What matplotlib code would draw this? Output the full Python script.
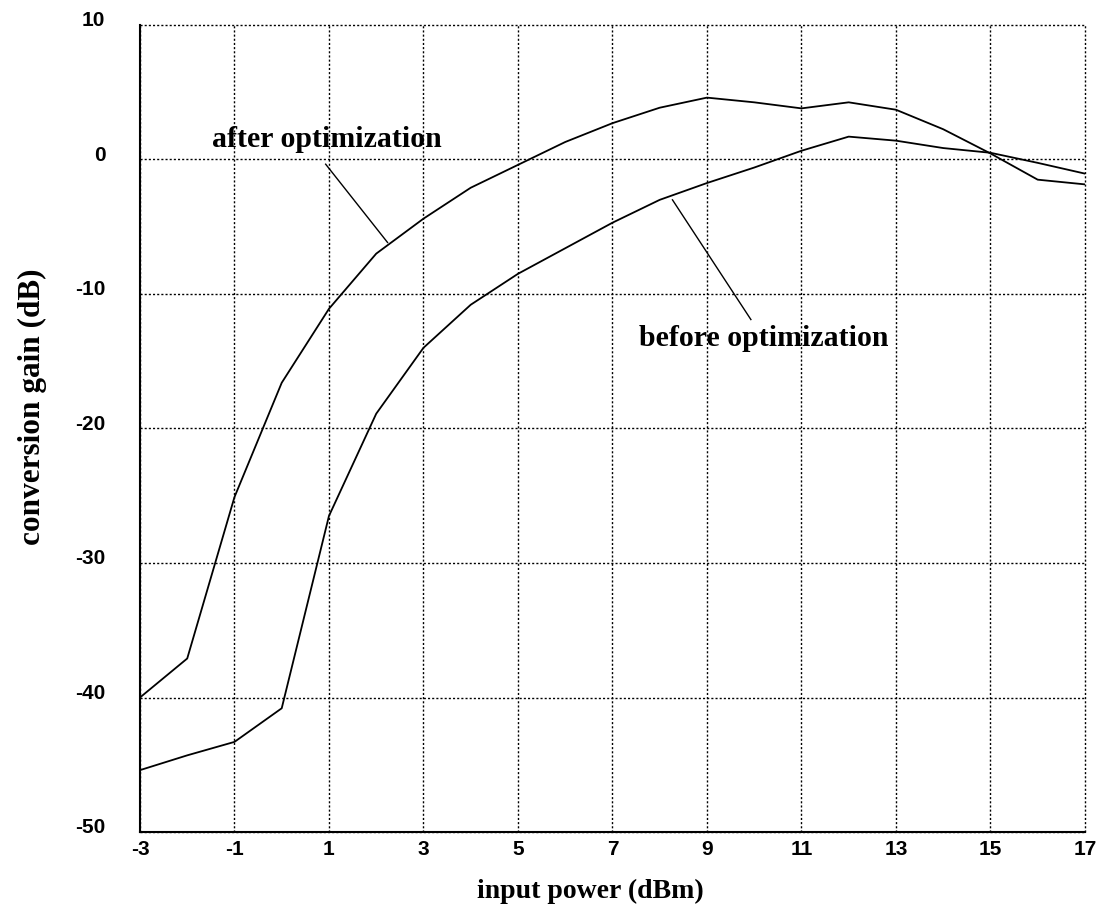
import numpy as np
import matplotlib
matplotlib.use("Agg")
import matplotlib.pyplot as plt
from matplotlib.transforms import ScaledTranslation

plt.rcParams["axes.unicode_minus"] = False

# input power (dBm)
input_power = [-3, -2, -1, 0, 1, 2, 3, 4, 5, 6, 7, 8, 9, 10, 11, 12, 13, 14, 15, 16, 17]
# conversion gain (dB)
gain_after = [-40.0, -37.1, -25.1, -16.6, -11.1, -7.0, -4.4, -2.1, -0.4, 1.3, 2.7,
              3.85, 4.6, 4.25, 3.8, 4.25, 3.7, 2.25, 0.45, -1.5, -1.85]
gain_before = [-45.4, -44.3, -43.3, -40.8, -26.5, -18.9, -14.0, -10.8, -8.5, -6.6, -4.7,
               -3.0, -1.75, -0.6, 0.65, 1.7, 1.4, 0.85, 0.5, -0.25, -1.05]

x_ticks = [-3, -1, 1, 3, 5, 7, 9, 11, 13, 15, 17]
y_ticks = [-50, -40, -30, -20, -10, 0, 10]

serif = "Liberation Serif"
sans = "Liberation Sans"

fig = plt.figure(figsize=(10.97, 9.22), dpi=100)
ax = fig.add_axes([0.1276, 0.0976, 0.8614, 0.8753])

ax.plot(input_power, gain_after, color="black", linewidth=1.3)
ax.plot(input_power, gain_before, color="black", linewidth=1.3)

ax.set_xlim(-3, 17)
ax.set_ylim(-50, 10)
ax.set_xticks(x_ticks)
ax.set_yticks(y_ticks)
ax.tick_params(axis="x", length=0, pad=6)
ax.tick_params(axis="y", length=0, pad=25)
for lab in ax.get_xticklabels() + ax.get_yticklabels():
    lab.set_fontfamily(sans)
    lab.set_fontweight("bold")
    lab.set_fontsize(15)
# y刻度标签稍微上移
up = ScaledTranslation(0, 4.5 / 72, fig.dpi_scale_trans)
for lab in ax.get_yticklabels():
    lab.set_transform(lab.get_transform() + up)

ax.grid(True, color="black", linestyle=(0, (1.5, 1.5)), linewidth=1.0)
for line in ax.get_xgridlines() + ax.get_ygridlines():
    line.set_clip_on(False)
for side in ["top", "right"]:
    ax.spines[side].set_visible(False)
for side in ["left", "bottom"]:
    ax.spines[side].set_linewidth(1.5)

# 注释文字和引线
ax.text(0.95, 1.5, "after optimization", fontfamily=serif, fontweight="bold",
        fontsize=21.5, ha="center", va="center")
ax.plot([0.93, 2.24], [-0.35, -6.17], color="black", linewidth=1.0)
ax.text(10.2, -13.3, "before optimization", fontfamily=serif, fontweight="bold",
        fontsize=21.5, ha="center", va="center")
ax.plot([8.27, 9.93], [-3.0, -11.9], color="black", linewidth=1.0)

fig.text(32 / 1097, 1 - 407 / 922, "conversion gain (dB)", fontfamily=serif,
         fontweight="bold", fontsize=22.5, rotation=90, ha="center", va="center")
fig.text(590 / 1097, 1 - 891 / 922, "input power (dBm)", fontfamily=serif,
         fontweight="bold", fontsize=20, ha="center", va="center")

fig.savefig("out.png", dpi=100)
